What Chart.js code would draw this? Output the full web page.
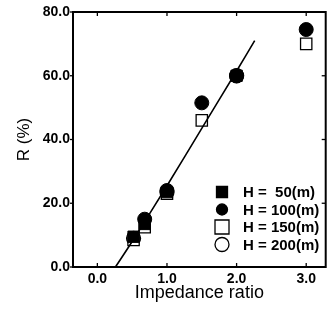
<!DOCTYPE html>
<html><head><meta charset="utf-8">
<script src="https://cdn.jsdelivr.net/npm/chart.js@4/dist/chart.umd.min.js"></script>
<style>html,body{margin:0;padding:0;background:#fff}#wrap{width:335px;height:324px}</style>
</head><body><div id="wrap"><canvas id="c" width="335" height="324"></canvas></div>
<script>
const xTicks = [0, 1, 2, 3];
const yTicks = [0, 20, 40, 60, 80];
const seriesLabels = ['H =  50(m)', 'H = 100(m)', 'H = 150(m)', 'H = 200(m)'];
const h50x = [0.52, 0.68, 1.0, 2.0];
const h50y = [9.5, 13.5, 23.5, 60.0];
const h100x = [0.68, 1.0, 1.5, 2.0, 3.0];
const h100y = [15.0, 24.0, 51.5, 60.0, 74.5];
const h150x = [0.52, 0.68, 1.0, 1.5, 3.0];
const h150y = [8.5, 12.5, 23.0, 46.0, 70.0];
const h200x = [0.52, 1.0, 2.0];
const h200y = [9.0, 23.5, 60.0];
const fitX = [0.26, 0.5, 1.0, 1.5, 2.0, 2.26];
const fitY = [0.0, 8.0, 25.5, 43.5, 61.5, 71.0];

const pts = (xs, ys) => xs.map((x, i) => ({x, y: ys[i]}));
const FONT = '"Liberation Sans", Arial, sans-serif';

const frame = {
  id: 'frame',
  afterDraw(chart) {
    const {ctx, chartArea: a, scales: {x, y}} = chart;
    ctx.save();
    ctx.strokeStyle = '#000';
    ctx.lineWidth = 2;
    ctx.strokeRect(a.left, a.top, a.right - a.left, a.bottom - a.top);
    ctx.lineWidth = 1.3;
    xTicks.forEach(v => {
      const p = x.getPixelForValue(v);
      ctx.beginPath(); ctx.moveTo(p, a.bottom); ctx.lineTo(p, a.bottom - 4); ctx.stroke();
      ctx.beginPath(); ctx.moveTo(p, a.top); ctx.lineTo(p, a.top + 4); ctx.stroke();
    });
    yTicks.forEach(v => {
      const p = y.getPixelForValue(v);
      ctx.beginPath(); ctx.moveTo(a.left - 3, p); ctx.lineTo(a.left, p); ctx.stroke();
      ctx.beginPath(); ctx.moveTo(a.right, p); ctx.lineTo(a.right - 4, p); ctx.stroke();
    });
    // legend
    const styles = [
      {s: 'rect', fill: '#000', r: 5.5},
      {s: 'circle', fill: '#000', r: 5.5},
      {s: 'rect', fill: '#fff', r: 7},
      {s: 'circle', fill: '#fff', r: 7}
    ];
    ctx.font = 'bold 15px ' + FONT;
    ctx.textBaseline = 'middle';
    ctx.textAlign = 'left';
    seriesLabels.forEach((lab, i) => {
      const cy = a.top + 180 + i * 17.5;
      const cx = 222;
      const st = styles[i];
      ctx.fillStyle = st.fill; ctx.strokeStyle = '#000'; ctx.lineWidth = 1.3;
      ctx.beginPath();
      if (st.s === 'rect') ctx.rect(cx - st.r, cy - st.r, st.r * 2, st.r * 2);
      else ctx.arc(cx, cy, st.r, 0, Math.PI * 2);
      ctx.fill(); ctx.stroke();
      ctx.fillStyle = '#000';
      ctx.fillText(lab, 243, cy + 1);
    });
    ctx.restore();
  }
};

new Chart(document.getElementById('c'), {
  type: 'scatter',
  data: {
    datasets: [
      {label: seriesLabels[0], data: pts(h50x, h50y), pointStyle: 'rect', pointRadius: 8, backgroundColor: '#000', borderColor: '#000', borderWidth: 1, order: 1},
      {label: seriesLabels[1], data: pts(h100x, h100y), pointStyle: 'circle', pointRadius: 7, backgroundColor: '#000', borderColor: '#000', borderWidth: 1, order: 3},
      {label: seriesLabels[2], data: pts(h150x, h150y), pointStyle: 'rect', pointRadius: 8, backgroundColor: '#fff', borderColor: '#000', borderWidth: 1.3, order: 2},
      {label: seriesLabels[3], data: pts(h200x, h200y), pointStyle: 'circle', pointRadius: 7, backgroundColor: '#fff', borderColor: '#000', borderWidth: 1.3, order: 4},
      {type: 'line', label: 'fit', data: pts(fitX, fitY), showLine: true, pointRadius: 0, borderColor: '#000', borderWidth: 1.6, tension: 0.3, fill: false, order: 0}
    ]
  },
  options: {
    responsive: false,
    animation: false,
    events: [],
    layout: {padding: {left: 14, right: 8, top: 12, bottom: 20}},
    plugins: {legend: {display: false}, tooltip: {enabled: false}},
    scales: {
      x: {
        type: 'linear', min: -0.35, max: 3.28,
        afterBuildTicks: s => { s.ticks = xTicks.map(v => ({value: v})); },
        ticks: {callback: v => v.toFixed(1), color: '#000', font: {family: FONT, size: 14, weight: 'bold'}, padding: 4, maxRotation: 0},
        grid: {display: false, drawTicks: false},
        border: {display: false},
        title: {display: true, text: 'Impedance ratio', color: '#000', font: {family: FONT, size: 18}, padding: {top: 0, bottom: 0}},
        afterFit: s => { s.height = 37; }
      },
      y: {
        type: 'linear', min: 0, max: 80,
        afterBuildTicks: s => { s.ticks = yTicks.map(v => ({value: v})); },
        ticks: {callback: v => v.toFixed(1), color: '#000', font: {family: FONT, size: 14, weight: 'bold'}, padding: 3},
        grid: {display: false, drawTicks: false},
        border: {display: false},
        title: {display: true, text: 'R (%)', color: '#000', font: {family: FONT, size: 17}, padding: {top: 0, bottom: 0}},
        afterFit: s => { s.width = 59; }
      }
    }
  },
  plugins: [frame]
});
</script></body></html>
